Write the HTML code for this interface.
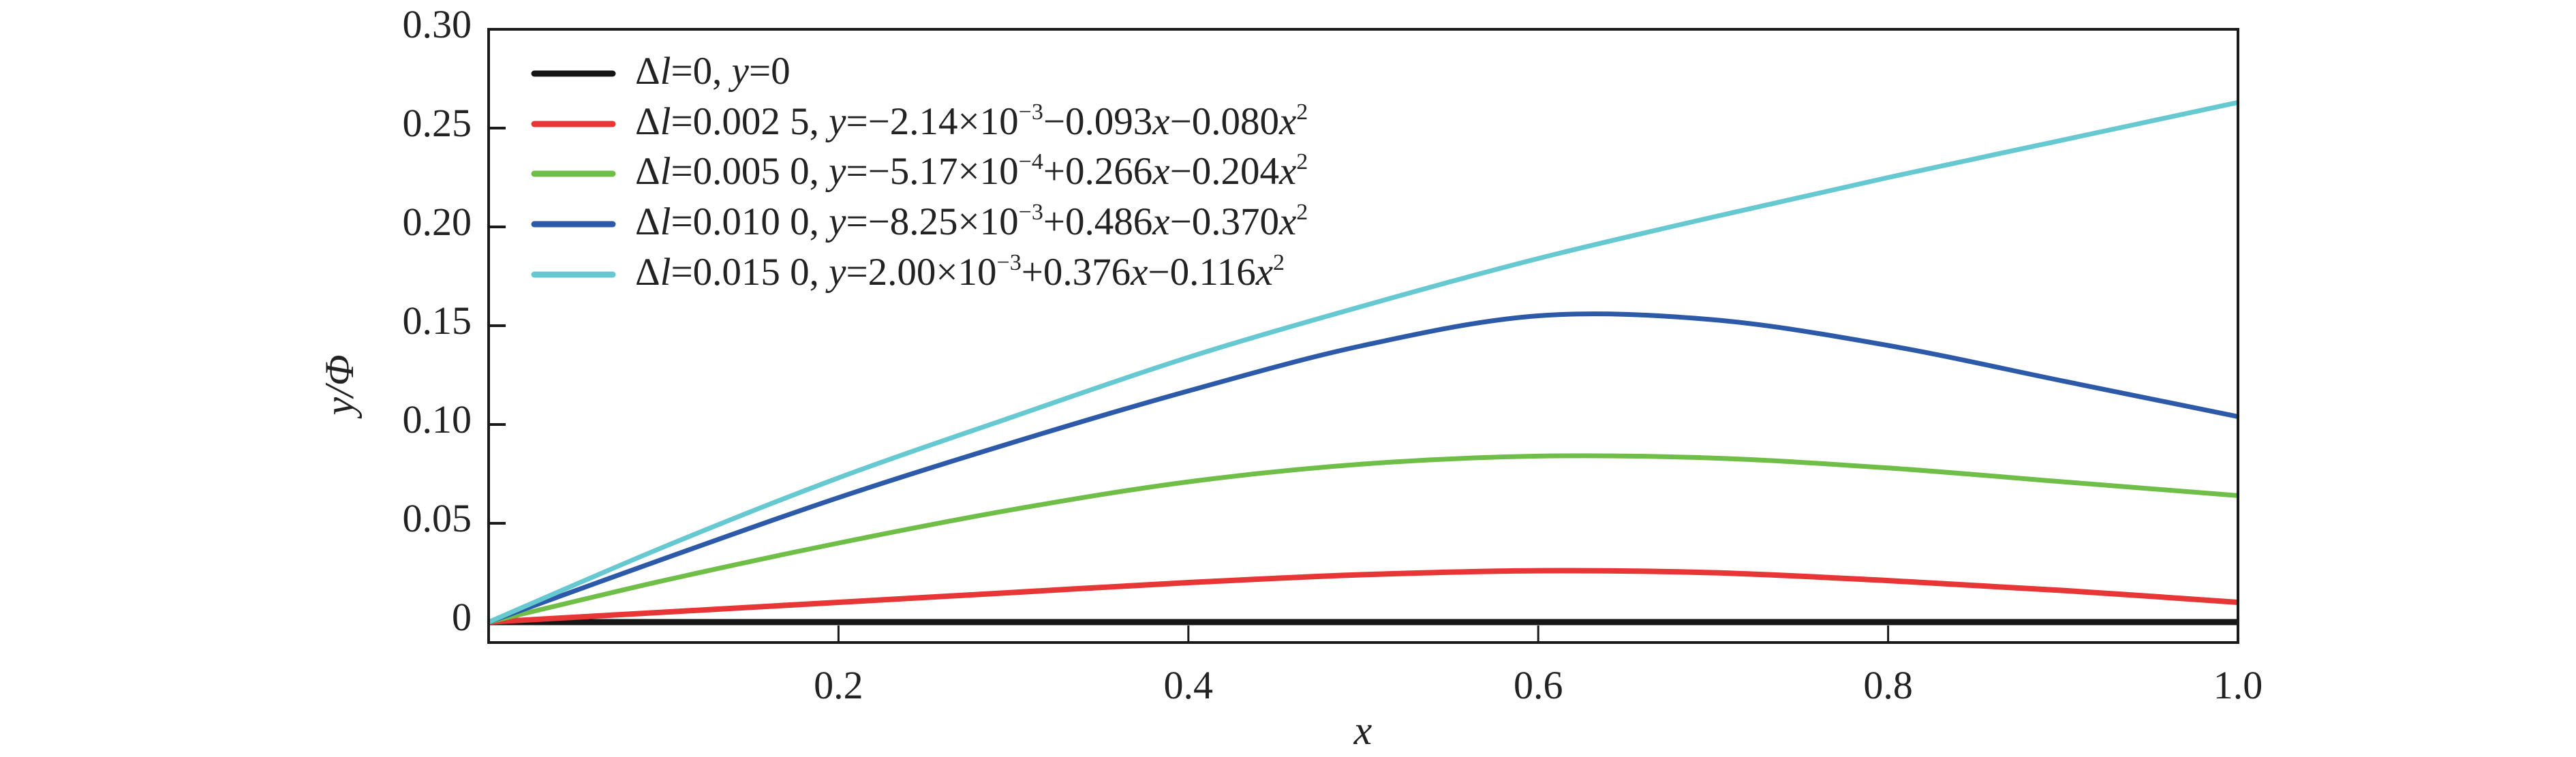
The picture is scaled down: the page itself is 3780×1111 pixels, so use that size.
<!DOCTYPE html>
<html><head><meta charset="utf-8"><style>
html,body{margin:0;padding:0;background:#fff;}
svg{display:block;font-family:"Liberation Serif",serif;}
</style></head><body>
<svg id="chart" width="3780" height="1111" viewBox="0 0 3780 1111" xmlns="http://www.w3.org/2000/svg">
<g id="plot"></g>
<g id="axes"></g>
<g id="legend">
  <line x1="784" y1="108" x2="899" y2="108" stroke="#161616" stroke-width="9" stroke-linecap="round"/>
  <line x1="784" y1="182" x2="899" y2="182" stroke="#e83535" stroke-width="9" stroke-linecap="round"/>
  <line x1="784" y1="255" x2="899" y2="255" stroke="#6fbe47" stroke-width="9" stroke-linecap="round"/>
  <line x1="784" y1="329" x2="899" y2="329" stroke="#2d5aa8" stroke-width="9" stroke-linecap="round"/>
  <line x1="784" y1="403" x2="899" y2="403" stroke="#66c8d0" stroke-width="9" stroke-linecap="round"/>
  <g font-size="57" fill="#222">
  <text x="932" y="123">Δ<tspan font-style="italic">l</tspan>=0, <tspan font-style="italic">y</tspan>=0</text>
  <text x="932" y="197">Δ<tspan font-style="italic">l</tspan>=0.002 5, <tspan font-style="italic">y</tspan>=−2.14×10<tspan font-size="34" dy="-22">−3</tspan><tspan dy="22">−0.093</tspan><tspan font-style="italic">x</tspan>−0.080<tspan font-style="italic">x</tspan><tspan font-size="34" dy="-22">2</tspan></text>
  <text x="932" y="270">Δ<tspan font-style="italic">l</tspan>=0.005 0, <tspan font-style="italic">y</tspan>=−5.17×10<tspan font-size="34" dy="-22">−4</tspan><tspan dy="22">+0.266</tspan><tspan font-style="italic">x</tspan>−0.204<tspan font-style="italic">x</tspan><tspan font-size="34" dy="-22">2</tspan></text>
  <text x="932" y="344">Δ<tspan font-style="italic">l</tspan>=0.010 0, <tspan font-style="italic">y</tspan>=−8.25×10<tspan font-size="34" dy="-22">−3</tspan><tspan dy="22">+0.486</tspan><tspan font-style="italic">x</tspan>−0.370<tspan font-style="italic">x</tspan><tspan font-size="34" dy="-22">2</tspan></text>
  <text x="932" y="418">Δ<tspan font-style="italic">l</tspan>=0.015 0, <tspan font-style="italic">y</tspan>=2.00×10<tspan font-size="34" dy="-22">−3</tspan><tspan dy="22">+0.376</tspan><tspan font-style="italic">x</tspan>−0.116<tspan font-style="italic">x</tspan><tspan font-size="34" dy="-22">2</tspan></text>
  </g>
</g>
<text x="0" y="0" font-size="60" font-style="italic" fill="#222" text-anchor="middle" transform="translate(518,565) rotate(-90)">y/Φ</text>
<text x="2000" y="1092" font-size="60" font-style="italic" fill="#222" text-anchor="middle">x</text>
</svg>
<script>
const xValues = [0, 0.1, 0.2, 0.3, 0.4, 0.5, 0.6, 0.7, 0.8, 0.9, 1.0];
const seriesBlack = [0, 0, 0, 0, 0, 0, 0, 0, 0, 0, 0];
const seriesRed = [0, 0.005, 0.010, 0.015, 0.020, 0.024, 0.026, 0.025, 0.021, 0.016, 0.010];
const seriesGreen = [0, 0.021, 0.040, 0.057, 0.071, 0.080, 0.084, 0.083, 0.078, 0.071, 0.064];
const seriesBlue = [0, 0.032, 0.063, 0.091, 0.117, 0.140, 0.155, 0.153, 0.140, 0.122, 0.104];
const seriesCyan = [0, 0.038, 0.073, 0.104, 0.134, 0.160, 0.184, 0.205, 0.225, 0.244, 0.263];
const xTicks = [0.2, 0.4, 0.6, 0.8, 1.0];
const xTickLabels = ["0.2", "0.4", "0.6", "0.8", "1.0"];
const yTicks = [0, 0.05, 0.10, 0.15, 0.20, 0.25, 0.30];
const yTickLabels = ["0", "0.05", "0.10", "0.15", "0.20", "0.25", "0.30"];

const L = 717, R = 3284, T = 43, B = 943;
const X0 = 0, X1 = 1, Y0 = -30 / 2900, Y1 = 0.30;
function xs(v) { return L + (v - X0) / (X1 - X0) * (R - L); }
function ys(v) { return B - (v - Y0) / (Y1 - Y0) * (B - T); }
const NS = 'http://www.w3.org/2000/svg';
function mk(tag, attrs) { const e = document.createElementNS(NS, tag); for (const k in attrs) e.setAttribute(k, attrs[k]); return e; }
const plot = document.getElementById('plot');
const axes = document.getElementById('axes');

function smoothPath(xv, yv) {
  const p = xv.map((x, i) => [xs(x), ys(yv[i])]);
  let d = 'M' + p[0][0] + ',' + p[0][1];
  for (let i = 0; i < p.length - 1; i++) {
    const p0 = p[Math.max(0, i - 1)], p1 = p[i], p2 = p[i + 1], p3 = p[Math.min(p.length - 1, i + 2)];
    const c1x = p1[0] + (p2[0] - p0[0]) / 6, c1y = p1[1] + (p2[1] - p0[1]) / 6;
    const c2x = p2[0] - (p3[0] - p1[0]) / 6, c2y = p2[1] - (p3[1] - p1[1]) / 6;
    d += ' C' + c1x + ',' + c1y + ' ' + c2x + ',' + c2y + ' ' + p2[0] + ',' + p2[1];
  }
  return d;
}
const series = [
  ['series-black', seriesBlack, '#161616', 9],
  ['series-red', seriesRed, '#e83535', 8],
  ['series-green', seriesGreen, '#6fbe47', 7],
  ['series-blue', seriesBlue, '#2d5aa8', 7],
  ['series-cyan', seriesCyan, '#66c8d0', 7]
];
series.forEach(s => {
  const path = mk('path', { d: smoothPath(xValues, s[1]), fill: 'none', stroke: s[2], 'stroke-width': s[3] });
  
  
  plot.appendChild(path);
});

const frame = mk('rect', { x: L, y: T, width: R - L, height: B - T, fill: 'none', stroke: '#1a1a1a', 'stroke-width': 4 });


axes.appendChild(frame);

xTicks.forEach((v, i) => {
  const x = xs(v);
  const t = mk('line', { x1: x, y1: B, x2: x, y2: B - 25, stroke: '#1a1a1a', 'stroke-width': 3 });
  
  
  axes.appendChild(t);
  const lb = mk('text', { x: x, y: 1025, 'font-size': 58, 'text-anchor': 'middle', fill: '#222' });
  
  
  lb.textContent = xTickLabels[i];
  axes.appendChild(lb);
});
yTicks.forEach((v, i) => {
  const y = ys(v);
  if (v > 0 && v < 0.3) {
    const t = mk('line', { x1: L, y1: y, x2: L + 25, y2: y, stroke: '#1a1a1a', 'stroke-width': 4 });
    
    
    axes.appendChild(t);
  }
  const lb = mk('text', { x: 692, y: y + 12, 'font-size': 58, 'text-anchor': 'end', fill: '#222' });
  
  
  lb.textContent = yTickLabels[i];
  axes.appendChild(lb);
});
</script>
</body></html>
